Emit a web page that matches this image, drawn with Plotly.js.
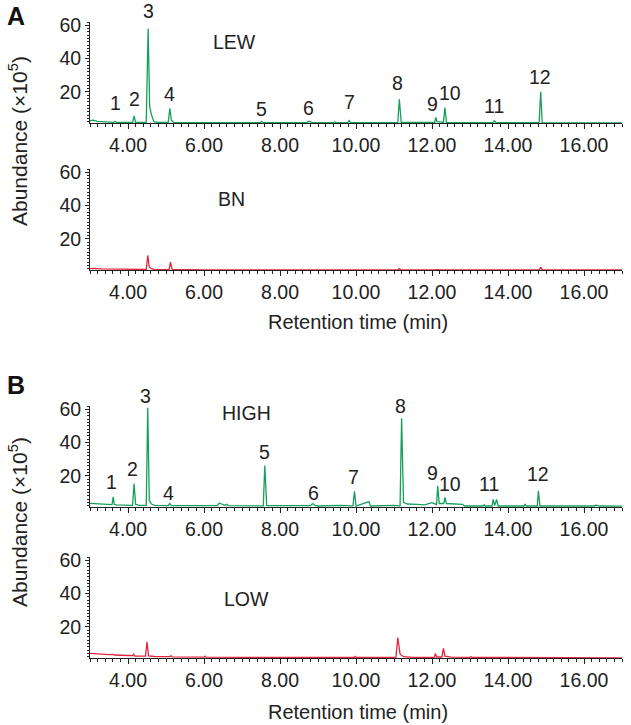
<!DOCTYPE html>
<html>
<head>
<meta charset="utf-8">
<script src="https://cdn.plot.ly/plotly-3.0.1.min.js"></script>
<style>
  body { margin: 0; background: #fff; }
  #graph { width: 631px; height: 725px; }
</style>
</head>
<body>
<div id="graph"></div>
<script>
// Chromatogram traces (time in min, abundance x10^5)
const lewTime = [3.00, 3.08, 3.20, 3.40, 3.62, 3.66, 3.70, 4.12, 4.16, 4.20, 4.48, 4.53, 4.57, 4.62, 4.68, 4.80,
    5.06, 5.10, 5.14, 5.20, 6.00, 7.48, 7.52, 7.56, 8.70, 8.74, 8.80, 8.84, 9.40, 9.44, 9.48, 9.78, 9.82, 9.86,
    11.10, 11.14, 11.19, 12.07, 12.10, 12.13, 12.30, 12.34, 12.38, 13.60, 13.64, 13.68, 14.82, 14.86, 14.90, 16.00, 17.00];
const lewAbund = [2.6, 2.9, 2.2, 1.7, 1.6, 2.1, 1.6, 1.5, 5.5, 1.5, 1.6, 58, 11, 6, 2, 1.5,
    1.6, 10, 3, 1.6, 1.4, 1.4, 2.2, 1.4, 1.4, 2.1, 2.1, 1.4, 1.4, 1.8, 1.4, 1.4, 2.6, 1.4,
    1.4, 15.5, 1.6, 1.5, 4.5, 2, 1.6, 10.5, 1.5, 1.4, 2.5, 1.5, 1.4, 20, 1.4, 1.3, 1.3];

const bnTime = [3.00, 3.10, 3.30, 3.80, 4.48, 4.52, 4.56, 4.62, 4.70, 5.08, 5.12, 5.16, 6.00, 7.40, 9.28, 9.32, 9.36,
    9.80, 9.84, 9.88, 11.10, 11.14, 11.18, 12.10, 12.14, 12.18, 12.30, 12.34, 12.38, 14.82, 14.86, 14.90, 17.00];
const bnAbund = [2.0, 2.2, 1.9, 1.6, 1.5, 10, 3, 2, 1.4, 1.4, 6, 1.6, 1.3, 1.3, 1.3, 1.7, 1.3,
    1.3, 1.6, 1.3, 1.3, 2, 1.3, 1.3, 1.6, 1.3, 1.3, 1.7, 1.3, 1.3, 3, 1.3, 1.2];

const highTime = [3.00, 3.10, 3.30, 3.55, 3.58, 3.61, 3.64, 3.70, 4.12, 4.16, 4.20, 4.30, 4.48, 4.52, 4.56, 4.62, 4.70,
    5.06, 5.10, 5.14, 5.50, 6.35, 6.40, 6.45, 6.55, 6.60, 6.65, 7.56, 7.60, 7.65, 8.80, 8.86, 8.92, 9.00, 9.30, 9.60,
    9.92, 9.96, 10.00, 10.34, 10.38, 10.80, 11.00, 11.16, 11.20, 11.25, 11.35, 11.60, 11.80, 12.00, 12.10, 12.12,
    12.15, 12.19, 12.31, 12.34, 12.38, 12.80, 12.86, 13.34, 13.37, 13.40, 13.58, 13.61, 13.65, 13.70, 13.74,
    14.42, 14.45, 14.48, 14.77, 14.80, 14.84, 15.50, 16.25, 16.33, 16.40, 17.00];
const highAbund = [3.4, 3.3, 3.0, 2.6, 2.6, 7.3, 2.8, 2.5, 2.2, 15.3, 2.8, 2.2, 2.2, 61, 5, 3, 2.2,
    2.0, 3.4, 2.0, 2.0, 2.0, 3.6, 3.0, 2.2, 2.8, 2.0, 1.9, 26.2, 2.0, 2.0, 3.3, 2.2, 1.8, 2.2, 2.2,
    1.9, 10.7, 1.8, 4.5, 1.8, 2.2, 2.2, 1.9, 54.6, 4, 3, 2.8, 2.5, 3.8, 2.8, 2.6,
    13.9, 3.3, 3.3, 7, 3.3, 2.8, 1.8, 1.8, 2.6, 1.8, 1.8, 5.8, 2.0, 5.8, 1.8,
    1.8, 3, 1.8, 1.8, 10.9, 1.8, 1.8, 1.8, 2.3, 1.8, 1.7];

const lowTime = [3.00, 3.10, 3.50, 3.60, 3.65, 4.00, 4.12, 4.15, 4.18, 4.46, 4.50, 4.54, 4.70, 5.10, 5.13, 5.16,
    6.00, 6.03, 6.06, 8.00, 9.95, 9.98, 10.01, 11.05, 11.10, 11.16, 11.25, 11.50, 12.06, 12.09, 12.12,
    12.26, 12.30, 12.34, 12.50, 13.00, 13.03, 13.06, 17.00];
const lowAbund = [4.0, 3.8, 3.2, 3.4, 3.0, 2.7, 2.6, 3.5, 2.4, 2.3, 11, 2.5, 2.1, 2.0, 2.6, 1.9,
    1.7, 2.3, 1.7, 1.5, 1.5, 2.2, 1.5, 1.5, 13.5, 3.5, 2, 1.6, 1.6, 4, 1.8,
    1.8, 7, 2.3, 1.7, 1.6, 2, 1.6, 1.3];

// Peak numbers (label centre positions)
const peakNames = ['1', '2', '3', '4', '5', '6', '7', '8', '9', '10', '11', '12'];
const lewLabelX = [3.66, 4.16, 4.53, 5.08, 7.50, 8.76, 9.84, 11.10, 12.00, 12.47, 13.63, 14.84];
const lewLabelY = [13.2, 15.6, 68.4, 18.6, 9.6, 10.2, 13.8, 25.2, 12.6, 19.2, 11.4, 28.8];
const highLabelX = [3.57, 4.11, 4.47, 5.06, 7.60, 8.89, 9.93, 11.18, 12.01, 12.47, 13.51, 14.78];
const highLabelY = [16.3, 24.2, 67.9, 9.7, 34.1, 9.7, 19.2, 61.9, 21.8, 14.9, 15.3, 20.8];

// Sample names
const sampleNames = ['LEW', 'BN', 'HIGH', 'LOW'];
const sampleX = [6.79, 6.72, 7.13, 7.12];
const sampleY = [50, 44, 57.5, 37];

const green = '#15a05a';
const red = '#e3263f';
const font = 'Arial, "Liberation Sans", sans-serif';
const yRange = [1.2, 62];
const pxPerUnit = 101 / (yRange[1] - yRange[0]);

const traces = [
    { x: lewTime, y: lewAbund, xaxis: 'x', yaxis: 'y', line: { color: green } },
    { x: bnTime, y: bnAbund, xaxis: 'x2', yaxis: 'y2', line: { color: red } },
    { x: highTime, y: highAbund, xaxis: 'x3', yaxis: 'y3', line: { color: green } },
    { x: lowTime, y: lowAbund, xaxis: 'x4', yaxis: 'y4', line: { color: red } }
].map(t => Object.assign(t, { type: 'scatter', mode: 'lines', line: Object.assign(t.line, { width: 1.3 }), hoverinfo: 'skip' }));

function xAxis(anchor) {
    return {
        domain: [90 / 631, 622 / 631], anchor: anchor, range: [3, 17],
        showline: true, linecolor: '#222', linewidth: 1, showgrid: false, zeroline: false,
        ticks: 'outside', ticklen: 5, tickcolor: '#222', tickmode: 'linear', tick0: 0, dtick: 2, tickformat: '.2f',
        minor: { tickmode: 'linear', tick0: 3, dtick: 0.2, ticks: 'outside', ticklen: 3, tickcolor: '#222' },
        tickfont: { family: font, size: 19.5, color: '#222' }
    };
}
function yAxis(top, bottom, anchor) {
    return {
        domain: [1 - bottom / 725, 1 - top / 725], anchor: anchor, range: yRange,
        showline: true, linecolor: '#222', linewidth: 1, showgrid: false, zeroline: false,
        ticks: 'outside', ticklen: 4, tickcolor: '#222', tickmode: 'linear', tick0: 0, dtick: 20,
        minor: { tickmode: 'linear', tick0: 0, dtick: 2, ticks: 'outside', ticklen: 2, tickcolor: '#222' },
        tickfont: { family: font, size: 19.5, color: '#222' }
    };
}

const annotations = [];
function addText(xr, yr, x, y, text) {
    let shift = 0;
    if (y > 61.5) { shift = (y - 61.5) * pxPerUnit; y = 61.5; }
    annotations.push({ xref: xr, yref: yr, x: x, y: y, yshift: shift, text: text, showarrow: false,
        xanchor: 'center', yanchor: 'middle', font: { family: font, size: 19.5, color: '#222' } });
}
peakNames.forEach((n, i) => addText('x', 'y', lewLabelX[i], lewLabelY[i], n));
peakNames.forEach((n, i) => addText('x3', 'y3', highLabelX[i], highLabelY[i], n));
['x', 'x2', 'x3', 'x4'].forEach((xr, i) => addText(xr, xr.replace('x', 'y'), sampleX[i], sampleY[i], sampleNames[i]));

// Panel letters, shared axis titles
[['A', 16], ['B', 385]].forEach(([t, y]) => annotations.push({ xref: 'paper', yref: 'paper', x: 16 / 631, y: 1 - y / 725,
    text: '<b>' + t + '</b>', showarrow: false, xanchor: 'center', yanchor: 'middle', font: { family: font, size: 25, color: '#111' } }));
[141, 522].forEach(y => annotations.push({ xref: 'paper', yref: 'paper', x: 18 / 631, y: 1 - y / 725, textangle: -90,
    text: 'Abundance (×10<sup>5</sup>)', showarrow: false, xanchor: 'center', yanchor: 'middle', font: { family: font, size: 21, color: '#222' } }));
[322, 712].forEach(y => annotations.push({ xref: 'paper', yref: 'paper', x: 358 / 631, y: 1 - y / 725,
    text: 'Retention time (min)', showarrow: false, xanchor: 'center', yanchor: 'middle', font: { family: font, size: 20, color: '#222' } }));

const layout = {
    width: 631, height: 725,
    margin: { l: 0, r: 0, t: 0, b: 0 },
    paper_bgcolor: '#fff', plot_bgcolor: '#fff',
    showlegend: false,
    xaxis: xAxis('y'), yaxis: yAxis(22, 123, 'x'),
    xaxis2: xAxis('y2'), yaxis2: yAxis(169, 270, 'x2'),
    xaxis3: xAxis('y3'), yaxis3: yAxis(406, 507, 'x3'),
    xaxis4: xAxis('y4'), yaxis4: yAxis(557, 658, 'x4'),
    annotations: annotations
};

Plotly.newPlot('graph', traces, layout, { displayModeBar: false, staticPlot: true });
</script>
</body>
</html>
